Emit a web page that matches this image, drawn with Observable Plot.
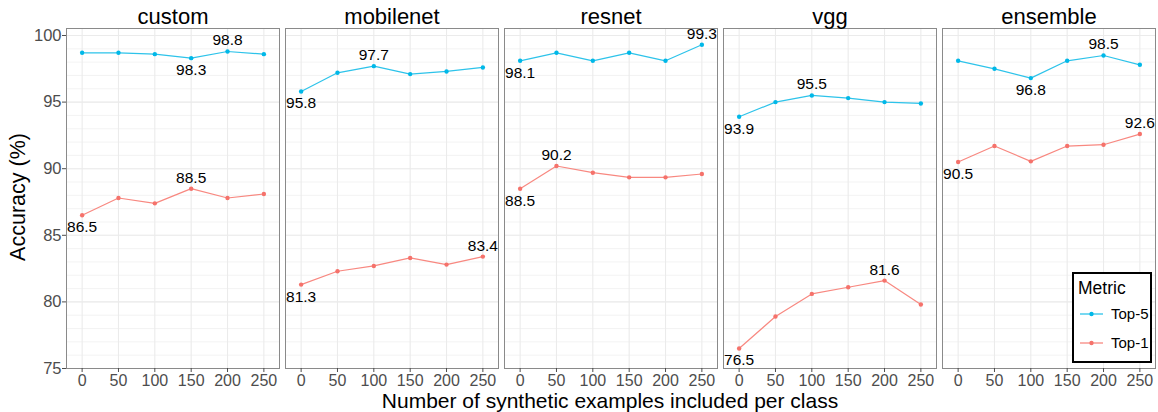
<!DOCTYPE html>
<html>
<head>
<meta charset="utf-8">
<script src="https://cdn.jsdelivr.net/npm/d3@7"></script>
<script src="https://cdn.jsdelivr.net/npm/@observablehq/plot@0.6"></script>
<style>
  body { margin: 0; background: white; }
  #wrap { position: relative; width: 1158px; height: 412px; font-family: "Liberation Sans", Arial, Helvetica, sans-serif; }
  .ytitle { position: absolute; left: 19px; top: 197px; transform: translate(-50%, -50%) rotate(-90deg); font-size: 21.5px; line-height: 1; color: #000; white-space: nowrap; }
  .xtitle { position: absolute; left: 610px; top: 400px; transform: translate(-50%, -50%); font-size: 21px; line-height: 1; color: #000; white-space: nowrap; }
  #legend { position: absolute; left: 1072px; top: 272px; }
</style>
</head>
<body>
<div id="wrap"></div>
<script>
// ---- data ----
const models = ["custom", "mobilenet", "resnet", "vgg", "ensemble"];
const metrics = ["Top-5", "Top-1"];
const examples = [0, 50, 100, 150, 200, 250];
const yTicks = [75, 80, 85, 90, 95, 100];
const yMinorTicks = d3.range(75, 101, 1);

const customTop5    = [98.7, 98.7, 98.6, 98.3, 98.8, 98.6];
const customTop1    = [86.5, 87.8, 87.4, 88.5, 87.8, 88.1];
const mobilenetTop5 = [95.8, 97.2, 97.7, 97.1, 97.3, 97.6];
const mobilenetTop1 = [81.3, 82.3, 82.7, 83.3, 82.8, 83.4];
const resnetTop5    = [98.1, 98.7, 98.1, 98.7, 98.1, 99.3];
const resnetTop1    = [88.5, 90.2, 89.7, 89.35, 89.35, 89.6];
const vggTop5       = [93.9, 95.0, 95.5, 95.3, 95.0, 94.9];
const vggTop1       = [76.5, 78.9, 80.6, 81.1, 81.6, 79.8];
const ensembleTop5  = [98.1, 97.5, 96.8, 98.1, 98.5, 97.8];
const ensembleTop1  = [90.5, 91.7, 90.55, 91.7, 91.8, 92.6];

const series = {
  custom:    {"Top-5": customTop5,    "Top-1": customTop1},
  mobilenet: {"Top-5": mobilenetTop5, "Top-1": mobilenetTop1},
  resnet:    {"Top-5": resnetTop5,    "Top-1": resnetTop1},
  vgg:       {"Top-5": vggTop5,       "Top-1": vggTop1},
  ensemble:  {"Top-5": ensembleTop5,  "Top-1": ensembleTop1}
};

const rows = [];
for (const m of models) for (const k of metrics)
  series[m][k].forEach((v, i) => rows.push({model: m, metric: k, n: examples[i], acc: v}));

const maxRows = [], minRows = [];
for (const m of models) for (const k of metrics) {
  const g = rows.filter(r => r.model === m && r.metric === k);
  maxRows.push(d3.greatest(g, r => r.acc));
  minRows.push(d3.least(g, r => r.acc));
}

const lineColor = {"Top-5": "#2DC3EA", "Top-1": "#F88880"};
const dotColor  = {"Top-5": "#00B8E8", "Top-1": "#F5726B"};
const fmt = d3.format(".1f");

const chart = Plot.plot({
  width: 1158,
  height: 412,
  marginLeft: 66,
  marginRight: 3,
  marginTop: 28,
  marginBottom: 44,
  style: {fontFamily: "'Liberation Sans', Arial, Helvetica, sans-serif", background: "white", overflow: "visible"},
  fx: {domain: models, paddingInner: 0.0274, paddingOuter: 0, axis: null, label: null},
  x: {domain: [-21.5, 271.5], label: null},
  y: {domain: [75, 100.525], label: null},
  marks: [
    Plot.gridY(yMinorTicks, {stroke: "#EEEEEE", strokeOpacity: 1, strokeWidth: 0.7}),
    Plot.gridY(yTicks, {stroke: "#EBEBEB", strokeOpacity: 1, strokeWidth: 1.1}),
    Plot.gridX(examples, {stroke: "#EBEBEB", strokeOpacity: 1, strokeWidth: 1.1}),
    Plot.frame({stroke: "#8A8A8A", strokeWidth: 1}),
    Plot.line(rows, {x: "n", y: "acc", fx: "model", z: "metric", stroke: d => lineColor[d.metric], strokeWidth: 1.2}),
    Plot.dot(rows, {x: "n", y: "acc", fx: "model", fill: d => dotColor[d.metric], r: 2.2}),
    Plot.text(maxRows, {x: "n", y: "acc", fx: "model", text: d => fmt(d.acc), dy: -11, fontSize: 15.5, fill: "#000"}),
    Plot.text(minRows, {x: "n", y: "acc", fx: "model", text: d => fmt(d.acc), dy: 12, fontSize: 15.5, fill: "#000"}),
    Plot.text(models, {fx: d => d, text: d => d, frameAnchor: "top", lineAnchor: "middle", dy: -12, fontSize: 22, fontWeight: "normal", fill: "#000"}),
    Plot.axisY(yTicks, {tickSize: 4, tickPadding: 1, fontSize: 16.5, color: "#4D4D4D", label: null}),
    Plot.axisX(examples, {tickSize: 4, tickPadding: 2, fontSize: 16, color: "#4D4D4D", label: null})
  ]
});

const wrap = document.getElementById("wrap");
wrap.appendChild(chart);

const yt = document.createElement("div");
yt.className = "ytitle"; yt.textContent = "Accuracy (%)";
wrap.appendChild(yt);
const xt = document.createElement("div");
xt.className = "xtitle"; xt.textContent = "Number of synthetic examples included per class";
wrap.appendChild(xt);

// legend
const ns = "http://www.w3.org/2000/svg";
const lg = document.createElementNS(ns, "svg");
lg.setAttribute("id", "legend");
lg.setAttribute("width", 80); lg.setAttribute("height", 91);
lg.style.fontFamily = "'Liberation Sans', Arial, Helvetica, sans-serif";
const box = document.createElementNS(ns, "rect");
box.setAttribute("x", 1); box.setAttribute("y", 1); box.setAttribute("width", 78); box.setAttribute("height", 89);
box.setAttribute("fill", "white"); box.setAttribute("stroke", "#000"); box.setAttribute("stroke-width", 2);
lg.appendChild(box);
const title = document.createElementNS(ns, "text");
title.setAttribute("x", 6); title.setAttribute("y", 22); title.setAttribute("font-size", 17.5);
title.textContent = "Metric";
lg.appendChild(title);
metrics.forEach((k, i) => {
  const yy = 42 + i * 29;
  const ln = document.createElementNS(ns, "line");
  ln.setAttribute("x1", 8); ln.setAttribute("x2", 31); ln.setAttribute("y1", yy); ln.setAttribute("y2", yy);
  ln.setAttribute("stroke", lineColor[k]); ln.setAttribute("stroke-width", 1.3);
  lg.appendChild(ln);
  const c = document.createElementNS(ns, "circle");
  c.setAttribute("cx", 19.5); c.setAttribute("cy", yy); c.setAttribute("r", 2.2); c.setAttribute("fill", dotColor[k]);
  lg.appendChild(c);
  const t = document.createElementNS(ns, "text");
  t.setAttribute("x", 39); t.setAttribute("y", yy); t.setAttribute("dy", "0.35em"); t.setAttribute("font-size", 15);
  t.textContent = k;
  lg.appendChild(t);
});
wrap.appendChild(lg);
</script>
</body>
</html>
